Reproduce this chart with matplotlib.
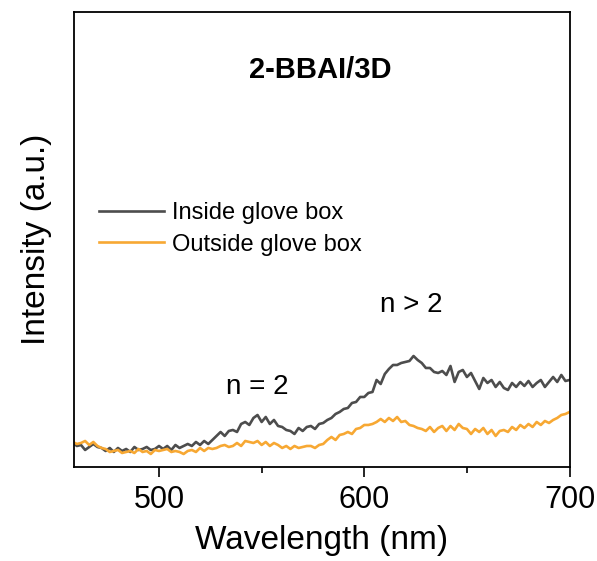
import numpy as np
import matplotlib
matplotlib.use("Agg")
import matplotlib.pyplot as plt
from matplotlib.ticker import MultipleLocator

plt.rcParams['font.family'] = ['Liberation Sans', 'DejaVu Sans']

# wavelength grid (nm), 2 nm steps
wavelength = np.arange(458, 701, 2)

# PL intensity (a.u.)
inside = [24, 21, 22, 17, 20, 23, 20, 19, 16, 19,
          15, 19, 16, 18, 15, 20, 17, 18, 20, 17,
          18, 21, 18, 21, 17, 22, 19, 21, 23, 21,
          25, 22, 26, 23, 27, 31, 35, 31, 36, 37,
          35, 43, 45, 42, 49, 52, 45, 50, 43, 47,
          41, 40, 37, 36, 33, 39, 36, 40, 41, 38,
          43, 44, 47, 49, 53, 55, 58, 59, 64, 65,
          70, 70, 74, 75, 87, 83, 93, 98, 102, 102,
          104, 105, 106, 111, 107, 104, 99, 99, 95, 94,
          96, 92, 101, 85, 95, 97, 90, 94, 86, 78,
          89, 84, 87, 80, 85, 79, 77, 84, 80, 85,
          81, 86, 80, 84, 87, 80, 85, 90, 85, 92,
          86, 87]

outside = [25, 23, 24, 26, 22, 25, 21, 19, 18, 15,
           16, 17, 14, 15, 16, 14, 18, 15, 16, 13,
           17, 16, 17, 18, 15, 16, 15, 13, 16, 17,
           15, 19, 16, 19, 18, 19, 21, 22, 20, 21,
           24, 21, 26, 25, 24, 26, 22, 25, 21, 24,
           22, 19, 21, 18, 21, 19, 20, 21, 21, 19,
           22, 23, 27, 30, 27, 32, 33, 35, 33, 38,
           39, 42, 42, 43, 45, 48, 45, 49, 46, 50,
           45, 46, 42, 41, 39, 38, 36, 40, 35, 39,
           41, 36, 41, 37, 43, 39, 38, 33, 38, 35,
           39, 33, 37, 31, 36, 37, 35, 40, 37, 42,
           39, 43, 40, 45, 42, 46, 44, 47, 49, 52,
           53, 55]

fig = plt.figure(figsize=(5.97, 5.61), dpi=100)
ax = fig.add_axes([0.124, 0.1676, 0.830, 0.811])

ax.plot(wavelength, inside, color='#4d4d4d', lw=1.9, label='Inside glove box')
ax.plot(wavelength, outside, color='#F7A833', lw=1.9, label='Outside glove box')

ax.set_xlim(458.6, 700)
ax.set_ylim(0, 455)
ax.set_yticks([])
ax.xaxis.set_major_locator(MultipleLocator(100))
ax.xaxis.set_minor_locator(MultipleLocator(50))
ax.tick_params(axis='x', which='major', direction='out', length=7, width=1.2,
               labelsize=22, pad=6)
ax.tick_params(axis='x', which='minor', direction='out', length=4, width=1.2)
for s in ax.spines.values():
    s.set_linewidth(1.3)

ax.set_xlabel('Wavelength (nm)', fontsize=24, labelpad=7)
ax.set_ylabel('Intensity (a.u.)', fontsize=24, labelpad=16)

ax.text(0.497, 0.873, '2-BBAI/3D', transform=ax.transAxes, fontsize=21,
        fontweight='bold', ha='center', va='center')
ax.text(0.369, 0.176, 'n = 2', transform=ax.transAxes, fontsize=20,
        ha='center', va='center')
ax.text(0.68, 0.356, 'n > 2', transform=ax.transAxes, fontsize=20,
        ha='center', va='center')

ax.legend(loc='upper left', bbox_to_anchor=(0.05, 0.582), frameon=False,
          fontsize=17, handlelength=2.75, handletextpad=0.35,
          labelspacing=0.4, borderpad=0, borderaxespad=0)

fig.savefig('out.png', dpi=100)
